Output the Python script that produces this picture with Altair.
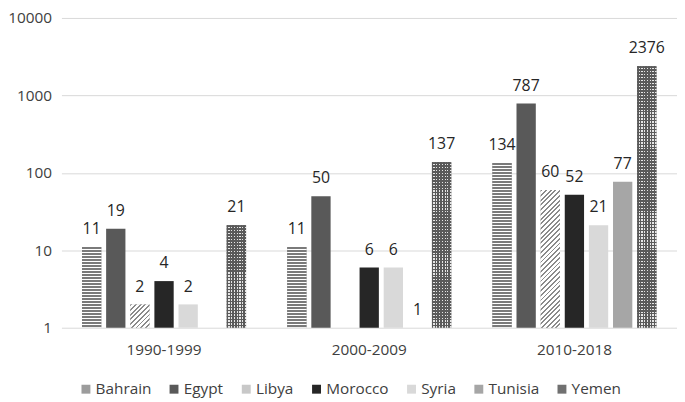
import math
import altair as alt
import pandas as pd

# ---- data ----
periods = ["1990-1999", "2000-2009", "2010-2018"]
countries = ["Bahrain", "Egypt", "Libya", "Morocco", "Syria", "Tunisia", "Yemen"]
bahrain = [11, 11, 134]
egypt = [19, 50, 787]
libya = [2, None, 60]
morocco = [4, 6, 52]
syria = [2, 6, 21]
tunisia = [None, 1, 77]
yemen = [21, 137, 2376]
y_ticks = [1, 10, 100, 1000, 10000]

series = dict(zip(countries, [bahrain, egypt, libya, morocco, syria, tunisia, yemen]))
rows = [
    {"period": p, "country": c, "value": v}
    for c in countries
    for p, v in zip(periods, series[c])
    if v is not None
]
df = pd.DataFrame(rows)

# ---- style ----
W, H = 622, 313
FONT = "Open Sans"
TXT = "#404040"
swatch = ["#9c9c9c", "#595959", "#c8c8c8", "#262626", "#d9d9d9", "#a6a6a6", "#707070"]
PAD_INNER, PAD_OUTER = 0.2, 0.852
px_decade = H / 4.0
step = (W / 3.0) / (len(countries) - PAD_INNER + 2 * PAD_OUTER)
bar_w = step * (1 - PAD_INNER)

x_enc = alt.X(
    "period:N", sort=periods,
    scale=alt.Scale(domain=periods, paddingInner=0, paddingOuter=0),
    axis=alt.Axis(title=None, labelAngle=0, domain=False, ticks=False, labelPadding=15,
                  labelFontSize=15.5, labelColor=TXT, labelFont=FONT),
)
xo_enc = alt.XOffset("country:N", sort=countries,
                     scale=alt.Scale(domain=countries, paddingInner=PAD_INNER, paddingOuter=PAD_OUTER))
y_enc = alt.Y(
    "value:Q", stack=None,
    scale=alt.Scale(type="log", domain=[1, 10000], nice=False),
    axis=alt.Axis(title=None, values=y_ticks, format="d", domain=False, ticks=False,
                  gridColor="#d9d9d9", gridWidth=1, labelPadding=10, labelFontSize=15.5,
                  labelFont=FONT, labelColor=TXT),
)


def stripe_grad(n, ink, paper, frac, x2, y2):
    stops = []
    for i in range(n):
        a, b, c = i / n, (i + frac) / n, (i + 1) / n
        stops += [{"offset": a, "color": ink}, {"offset": b, "color": ink},
                  {"offset": b, "color": paper}, {"offset": c, "color": paper}]
    return {"gradient": "linear", "x1": 0, "y1": 0, "x2": x2, "y2": y2, "stops": stops}


def one_bar(country, period, fill):
    return (
        alt.Chart(df)
        .transform_filter(f"datum.country == '{country}' && datum.period == '{period}'")
        .mark_bar(fill=fill)
        .encode(x=x_enc, xOffset=xo_enc, y=y_enc)
    )


base = alt.Chart(df).mark_bar().encode(
    x=x_enc, xOffset=xo_enc, y=y_enc,
    color=alt.Color(
        "country:N", sort=countries,
        scale=alt.Scale(domain=countries, range=swatch),
        legend=alt.Legend(
            title=None, orient="none", legendX=17, legendY=367, direction="horizontal",
            symbolType="square", symbolSize=81, symbolStrokeWidth=0, labelFontSize=15.5,
            labelFont=FONT, labelColor=TXT, labelOffset=2, columnPadding=15, padding=0,
        ),
    ),
)

overlays = []
# Bahrain: horizontal stripes
for p, v in zip(periods, bahrain):
    if v is None:
        continue
    h = math.log10(v) * px_decade
    n = max(1, round(h / 3.0))
    overlays.append(one_bar("Bahrain", p, stripe_grad(n, "#7a7a7a", "#ffffff", 0.6, 0, 1)))
# Libya: diagonal hatch
for p, v in zip(periods, libya):
    if v is None:
        continue
    h = math.log10(v) * px_decade
    w = bar_w
    c = (w + h) / (w * w + h * h)
    n = max(1, round((w + h) / (3.4 * math.sqrt(2))))
    overlays.append(one_bar("Libya", p, stripe_grad(n, "#8a8a8a", "#ffffff", 0.4, c * w, c * h)))
# Yemen: woven dot pattern (rows + columns)
for p, v in zip(periods, yemen):
    if v is None:
        continue
    h = math.log10(v) * px_decade
    n = max(1, round(h / 3.0))
    overlays.append(one_bar("Yemen", p, stripe_grad(n, "#5a5a5a", "#e6e6e6", 0.55, 0, 1)))
    ncol = max(1, round(bar_w / 3.0))
    overlays.append(one_bar("Yemen", p, stripe_grad(ncol, "#5a5a5a", "rgba(255,255,255,0)", 0.55, 1, 0)))

labels = alt.Chart(df).mark_text(
    dy=-13, baseline="alphabetic", fontSize=16, font=FONT, color="#262626"
).encode(x=x_enc, xOffset=xo_enc, y=y_enc, text=alt.Text("value:Q", format="d"))

chart = (
    alt.layer(base, *overlays, labels)
    .properties(
        width=W, height=H,
        padding={"left": 54, "top": 8, "right": 0, "bottom": 73},
        autosize=alt.AutoSizeParams(type="none"),
        background="white",
    )
    .configure_view(stroke=None)
)

chart.save("out.html", embed_options={"renderer": "svg", "actions": False})
